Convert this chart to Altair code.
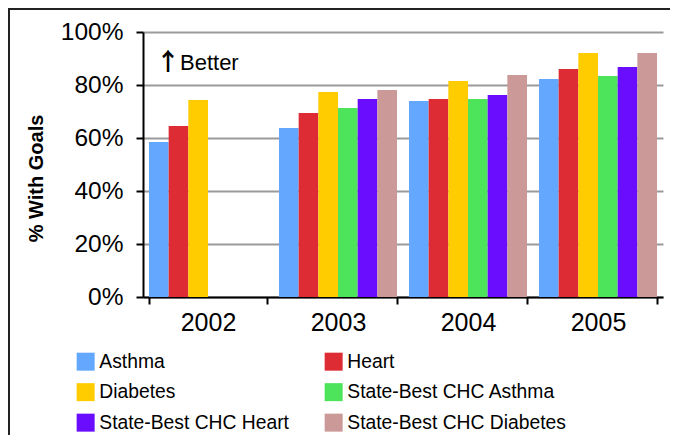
import altair as alt
import pandas as pd

years = ["2002", "2003", "2004", "2005"]
series = ["Asthma", "Heart", "Diabetes", "State-Best CHC Asthma",
          "State-Best CHC Heart", "State-Best CHC Diabetes"]
colors = ["#63A8FE", "#DD2C33", "#FFCC00", "#4DE35A", "#6A0DFF", "#CC9999"]
# legend fills column by column: order so that it reads row by row
legend_order = [0, 2, 4, 1, 3, 5]

asthma = [0.585, 0.638, 0.740, 0.823]
heart = [0.645, 0.694, 0.747, 0.860]
diabetes = [0.743, 0.774, 0.815, 0.921]
sb_asthma = [None, 0.713, 0.747, 0.834]
sb_heart = [None, 0.747, 0.762, 0.868]
sb_diabetes = [None, 0.781, 0.838, 0.921]

values = [asthma, heart, diabetes, sb_asthma, sb_heart, sb_diabetes]
rows = []
for s, vals in zip(series, values):
    for y, v in zip(years, vals):
        if v is not None:
            rows.append({"year": y, "series": s, "value": v})
df = pd.DataFrame(rows)

FONT = "Liberation Sans, Arial, Helvetica, sans-serif"
leg_domain = [series[i] for i in legend_order]
leg_range = [colors[i] for i in legend_order]

bars = alt.Chart(df).mark_bar().encode(
    x=alt.X("year:N", sort=years, title=None,
            scale=alt.Scale(paddingInner=0.092, paddingOuter=0.046),
            axis=alt.Axis(labelAngle=0, tickBand="extent", domainColor="black",
                          domainWidth=2, tickColor="black", tickWidth=2, tickSize=7,
                          labelFontSize=25, labelPadding=6, labelColor="black",
                          labelFont=FONT, grid=False)),
    xOffset=alt.XOffset("series:N", sort=series,
                        scale=alt.Scale(domain=series, paddingInner=0, paddingOuter=0)),
    y=alt.Y("value:Q", title="% With Goals",
            scale=alt.Scale(domain=[0, 1]),
            axis=alt.Axis(format="%", values=[0, 0.2, 0.4, 0.6, 0.8, 1.0],
                          domainColor="black", domainWidth=2, tickColor="black",
                          tickWidth=2, tickSize=7, labelFontSize=24.5, labelPadding=13,
                          labelColor="black", labelFont=FONT,
                          gridColor="#9a9a9a", gridWidth=2,
                          titleFont=FONT, titleFontSize=20, titleFontWeight="bold",
                          titleColor="black", titlePadding=14, titleY=146)),
    color=alt.Color("series:N",
                    scale=alt.Scale(domain=leg_domain, range=leg_range),
                    legend=alt.Legend(title=None, orient="none", legendX=-67, legendY=320,
                                      columns=2, symbolType="square", symbolSize=324,
                                      symbolStrokeWidth=0, symbolOpacity=1,
                                      labelFont=FONT, labelFontSize=19.3, labelColor="black",
                                      labelOffset=4, columnPadding=35, rowPadding=10.5,
                                      labelLimit=400)),
)

arrow = alt.Chart(pd.DataFrame({"t": ["↑"]})).mark_text(
    align="left", baseline="middle", font="Noto Sans CJK SC", fontWeight="bold",
    fontSize=24, color="black"
).encode(text="t:N", x=alt.value(13), y=alt.value(31))

note = alt.Chart(pd.DataFrame({"t": ["Better"]})).mark_text(
    align="left", baseline="middle", font=FONT, fontSize=22, color="black"
).encode(text="t:N", x=alt.value(37), y=alt.value(31))

frame_left = alt.Chart(pd.DataFrame({"a": [0]})).mark_rule(color="#222", strokeWidth=2).encode(
    x=alt.value(-134), y=alt.value(-24), y2=alt.value(420))
frame_top = alt.Chart(pd.DataFrame({"a": [0]})).mark_rule(color="#222", strokeWidth=2).encode(
    x=alt.value(-134), x2=alt.value(540), y=alt.value(-23))

chart = alt.layer(bars, arrow, note, frame_left, frame_top).properties(
    width=520, height=265,
    autosize=alt.AutoSizeParams(type="none"),
    padding={"left": 135, "top": 24, "right": 7, "bottom": 138},
).configure_view(stroke="transparent")

chart.save("out.html", embed_options={"renderer": "svg", "actions": False})
